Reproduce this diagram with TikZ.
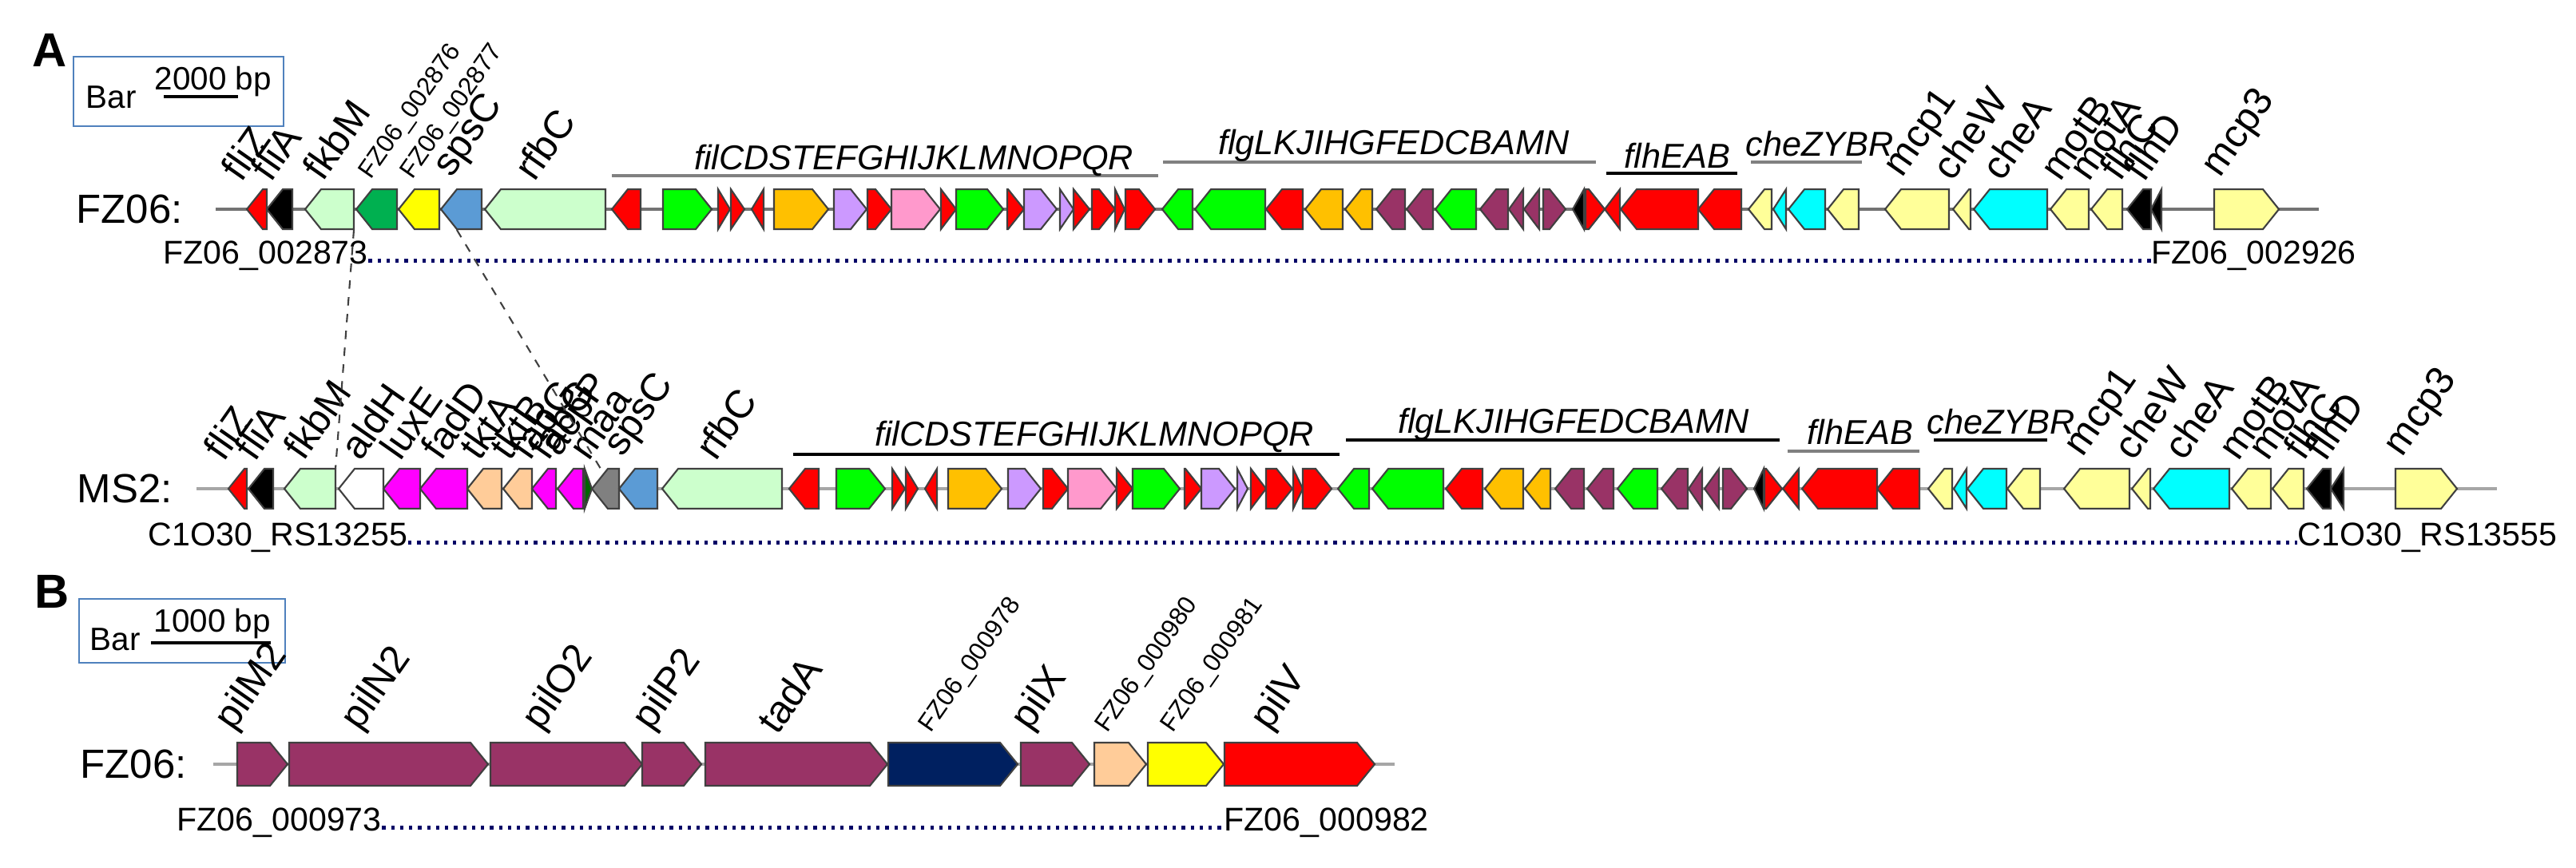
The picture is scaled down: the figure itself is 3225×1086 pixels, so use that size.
\documentclass[tikz,border=0pt]{standalone}
\usepackage{fontspec}
\setmainfont{Liberation Sans}
\definecolor{gred}{HTML}{FF0000}
\definecolor{lgreen}{HTML}{CCFFCC}
\definecolor{mgreen}{HTML}{00B050}
\definecolor{gyellow}{HTML}{FFFF00}
\definecolor{sblue}{HTML}{5B9BD5}
\definecolor{bgreen}{HTML}{00FF00}
\definecolor{gorange}{HTML}{FFC000}
\definecolor{lav}{HTML}{CC99FF}
\definecolor{gpink}{HTML}{FF99CC}
\definecolor{plum}{HTML}{993366}
\definecolor{lyellow}{HTML}{FFFF99}
\definecolor{gcyan}{HTML}{00FFFF}
\definecolor{gmag}{HTML}{FF00FF}
\definecolor{peach}{HTML}{FFCC99}
\definecolor{ggray}{HTML}{808080}
\definecolor{navy}{HTML}{002060}
\definecolor{dgreen}{HTML}{006600}
\definecolor{barblue}{HTML}{4F81BD}
% gene arrows: start, end, fill
\newcommand{\gR}[3]{\pgfmathsetmacro\ghd{min(\ghead,#2-#1)}%
  \filldraw[gene,fill=#3] (#1,\rowy-\ghalf) -- (#2-\ghd,\rowy-\ghalf) -- (#2,\rowy)
  -- (#2-\ghd,\rowy+\ghalf) -- (#1,\rowy+\ghalf) -- cycle;}
\newcommand{\gL}[3]{\pgfmathsetmacro\ghd{min(\ghead,#2-#1)}%
  \filldraw[gene,fill=#3] (#1,\rowy) -- (#1+\ghd,\rowy-\ghalf) -- (#2,\rowy-\ghalf)
  -- (#2,\rowy+\ghalf) -- (#1+\ghd,\rowy+\ghalf) -- cycle;}
% rotated gene label: name, x, text
\newcommand{\glab}[3]{\node[glab] (#1) at (#2,\rowy-\ghalf-7) {#3};}
\newcommand{\tlab}[3]{\node[glab,tagfont] (#1) at (#2,\rowy-\ghalf-7) {#3};}
\begin{document}
\begin{tikzpicture}[x=0.1mm,y=-0.1mm,
  gene/.style={draw=black!75,line width=0.6pt},
  glab/.style={rotate=55,anchor=south west,inner sep=0pt,font=\fontsize{14}{14}\selectfont},
  tagfont/.style={font=\fontsize{9}{9}\selectfont},
  grp/.style={line width=1.3pt},
  grplab/.style={anchor=base,inner sep=0pt,font=\fontsize{12.3}{13}\selectfont\itshape},
  locus/.style={inner sep=0pt,font=\fontsize{11.7}{12}\selectfont},
  org/.style={anchor=west,inner sep=0pt,font=\fontsize{14.5}{15}\selectfont},
  panel/.style={anchor=north west,inner sep=0pt,font=\fontsize{17}{17}\selectfont\bfseries},
  bartxt/.style={anchor=base west,inner sep=0pt,font=\fontsize{11.5}{12}\selectfont},
  barbox/.style={draw=barblue,line width=0.8pt},
  dots/.style={dotted,line width=1.2pt,blue!40!black},
  link/.style={dashed,line width=0.6pt,black!75}]
\useasboundingbox (0,0) rectangle (3225,1086);

% ---- panel A
\node[panel] (pA) at (40,42) {A};
\draw[barbox] (92,71) rectangle (355,158);
\node[bartxt] (barA) at (107,135) {Bar};
\node[bartxt] (scaleA) at (193,112) {2000 bp};
\draw[line width=1.3pt] (205,121) -- (298,121);

% FZ06
\def\rowy{262}\def\ghalf{25}\def\ghead{20}
\node[org] (fzA) at (95,262) {FZ06:};
\draw[line width=1.2pt,black!55] (270,262) -- (2903,262);
\gL{309}{334}{gred} \gL{334}{366}{black} \gL{382}{443}{lgreen} \gL{446}{497}{mgreen}
\gL{499}{550}{gyellow} \gL{552}{603}{sblue} \gL{607}{758}{lgreen} \gL{766}{802}{gred}
\gR{830}{891}{bgreen} \gR{899}{914}{gred} \gR{915}{932}{gred} \gL{941}{956}{gred}
\gR{969}{1037}{gorange} \gR{1044}{1085}{lav} \gR{1086}{1116}{gred} \gR{1116}{1177}{gpink}
\gR{1178}{1197}{gred} \gR{1197}{1256}{bgreen} \gR{1261}{1282}{gred} \gR{1282}{1323}{lav}
\gR{1327}{1344}{lav} \gR{1344}{1364}{gred} \gR{1367}{1396}{gred} \gR{1396}{1408}{gred}
\gR{1409}{1446}{gred} \gL{1455}{1493}{bgreen} \gL{1496}{1584}{bgreen} \gL{1585}{1631}{gred}
\gL{1634}{1681}{gorange} \gL{1684}{1718}{gorange} \gL{1723}{1759}{plum} \gL{1761}{1794}{plum}
\gL{1797}{1848}{bgreen} \gL{1853}{1888}{plum} \gL{1889}{1907}{plum} \gL{1908}{1927}{plum}
\gR{1932}{1960}{plum} \gL{1969}{1983}{black} \gR{1985}{2009}{gred} \gL{2009}{2028}{gred}
\gL{2029}{2126}{gred} \gL{2126}{2180}{gred} \gL{2189}{2218}{lyellow} \gL{2220}{2236}{gcyan}
\gL{2239}{2285}{gcyan} \gL{2288}{2327}{lyellow} \gL{2360}{2440}{lyellow} \gL{2445}{2467}{lyellow}
\gL{2471}{2563}{gcyan} \gL{2567}{2615}{lyellow} \gL{2618}{2657}{lyellow} \gL{2663}{2693}{black}
\gL{2693}{2706}{black} \gR{2772}{2853}{lyellow}
\glab{a-fliZ}{303}{fliZ} \glab{a-fliA}{340}{fliA} \glab{a-fkbM}{405}{fkbM}
\tlab{a-2876}{470}{FZ06\_002876} \tlab{a-2877}{522}{FZ06\_002877}
\glab{a-spsC}{574}{spsC} \glab{a-rfbC}{670}{rfbC}
\glab{a-mcp1}{2390}{mcp1} \glab{a-cheW}{2445}{cheW} \glab{a-cheA}{2507}{cheA}
\glab{a-motB}{2580}{motB} \glab{a-motA}{2616}{motA} \glab{a-flhC}{2655}{flhC}
\glab{a-flhD}{2685}{flhD} \glab{a-mcp3}{2788}{mcp3}
\draw[grp,black!50] (766,220) -- (1450,220);
\node[grplab] (a-fli) at (1144,212) {filCDSTEFGHIJKLMNOPQR};
\draw[grp,black!50] (1456,203) -- (1998,203);
\node[grplab] (a-flg) at (1745,193) {flgLKJIHGFEDCBAMN};
\draw[grp,black] (2011,217) -- (2175,217);
\node[grplab] (a-flh) at (2100,210) {flhEAB};
\draw[grp,black!50] (2192,203) -- (2331,203);
\node[grplab] (a-che) at (2278,195) {cheZYBR};
\node[locus,anchor=base west] (tagA1) at (204,330) {FZ06\_002873};
\node[locus,anchor=base west] (tagA2) at (2693,330) {FZ06\_002926};
\draw[dots] ([yshift=1pt]tagA1.base east) -- ([yshift=1pt]tagA2.base west);

% MS2
\def\rowy{612}
\node[org] (ms) at (96,612) {MS2:};
\draw[line width=1.2pt,black!35] (246,612) -- (3126,612);
\gL{286}{309}{gred} \gL{311}{342}{black} \gL{356}{420}{lgreen} \gL{424}{480}{white}
\gL{480}{526}{gmag} \gL{526}{585}{gmag} \gL{585}{628}{peach} \gL{630}{666}{peach}
\gL{666}{696}{gmag} \gL{698}{730}{gmag} \gR{732}{741}{dgreen} \gL{741}{775}{ggray}
\gL{775}{823}{sblue} \gL{829}{979}{lgreen} \gL{988}{1025}{gred} \gR{1047}{1108}{bgreen}
\gR{1117}{1133}{gred} \gR{1134}{1149}{gred} \gL{1158}{1173}{gred} \gR{1187}{1254}{gorange}
\gR{1262}{1303}{lav} \gR{1306}{1337}{gred} \gR{1337}{1398}{gpink} \gR{1398}{1418}{gred}
\gR{1418}{1477}{bgreen} \gR{1483}{1504}{gred} \gR{1504}{1546}{lav} \gR{1549}{1562}{lav}
\gR{1566}{1585}{gred} \gR{1585}{1618}{gred} \gR{1619}{1631}{gred} \gR{1631}{1667}{gred}
\gL{1675}{1714}{bgreen} \gL{1718}{1807}{bgreen} \gL{1810}{1856}{gred} \gL{1859}{1907}{gorange}
\gL{1909}{1941}{gorange} \gL{1947}{1983}{plum} \gL{1987}{2020}{plum} \gL{2025}{2075}{bgreen}
\gL{2080}{2113}{plum} \gL{2114}{2131}{plum} \gL{2134}{2152}{plum} \gR{2157}{2187}{plum}
\gL{2196}{2208}{black} \gR{2209}{2231}{gred} \gL{2232}{2252}{gred} \gL{2256}{2350}{gred}
\gL{2350}{2403}{gred} \gL{2414}{2444}{lyellow} \gL{2446}{2462}{gcyan} \gL{2463}{2512}{gcyan}
\gL{2513}{2554}{lyellow} \gL{2584}{2666}{lyellow} \gL{2669}{2692}{lyellow} \gL{2696}{2791}{gcyan}
\gL{2794}{2843}{lyellow} \gL{2845}{2884}{lyellow} \gL{2888}{2918}{black} \gL{2918}{2934}{black}
\gR{2999}{3076}{lyellow}
\glab{b-fliZ}{281}{fliZ} \glab{b-fliA}{320}{fliA} \glab{b-fkbM}{381}{fkbM}
\glab{b-aldH}{452}{aldH} \glab{b-luxE}{502}{luxE} \glab{b-fadD}{553}{fadD}
\glab{b-tktA}{601}{tktA} \glab{b-tktB}{639}{tktB} \glab{b-fabG1}{664}{fabG}
\glab{b-fabG2}{687}{fabG} \glab{b-acpP}{709}{acpP} \glab{b-maa}{738}{maa}
\glab{b-spsC}{788}{spsC} \glab{b-rfbC}{897}{rfbC}
\glab{b-mcp1}{2616}{mcp1} \glab{b-cheW}{2672}{cheW} \glab{b-cheA}{2735}{cheA}
\glab{b-motB}{2803}{motB} \glab{b-motA}{2840}{motA} \glab{b-flhC}{2885}{flhC}
\glab{b-flhD}{2912}{flhD} \glab{b-mcp3}{3016}{mcp3}
\draw[grp,black] (993,569) -- (1677,569);
\node[grplab] (b-fli) at (1370,558) {filCDSTEFGHIJKLMNOPQR};
\draw[grp,black] (1685,551) -- (2228,551);
\node[grplab] (b-flg) at (1970,542) {flgLKJIHGFEDCBAMN};
\draw[grp,black!50] (2238,565) -- (2403,565);
\node[grplab] (b-flh) at (2329,556) {flhEAB};
\draw[grp,black] (2421,551) -- (2563,551);
\node[grplab] (b-che) at (2505,543) {cheZYBR};
\node[locus,anchor=base west] (tagB1) at (185,683) {C1O30\_RS13255};
\node[locus,anchor=base west] (tagB2) at (2876,683) {C1O30\_RS13555};
\draw[dots] ([yshift=1pt]tagB1.base east) -- ([yshift=1pt]tagB2.base west);

% links between the two maps
\coordinate (fkbMa) at (443,288); \coordinate (fkbMb) at (420,587);
\coordinate (spsCa) at (572,288); \coordinate (spsCb) at (752,587);
\draw[link] (fkbMa) -- (fkbMb);
\draw[link] (spsCa) -- (spsCb);

% ---- panel B
\node[panel] (pB) at (43,720) {B};
\draw[barbox] (99,750) rectangle (357,830);
\node[bartxt] (barB) at (112,814) {Bar};
\node[bartxt] (scaleB) at (192,791) {1000 bp};
\draw[line width=1.3pt] (189,805) -- (339,805);
\def\rowy{957}\def\ghalf{27}\def\ghead{22}
\node[org] (fzB) at (100,957) {FZ06:};
\draw[line width=1.2pt,black!35] (267,957) -- (1746,957);
\gR{297}{360}{plum} \gR{362}{611}{plum} \gR{614}{804}{plum} \gR{804}{878}{plum}
\gR{883}{1111}{plum} \gR{1112}{1274}{navy} \gR{1278}{1364}{plum} \gR{1370}{1435}{peach}
\gR{1437}{1532}{gyellow} \gR{1533}{1721}{gred}
\glab{c-pilM2}{301}{pilM2} \glab{c-pilN2}{459}{pilN2} \glab{c-pilO2}{686}{pilO2}
\glab{c-pilP2}{824}{pilP2} \glab{c-tadA}{974}{tadA} \tlab{c-0978}{1171}{FZ06\_000978}
\glab{c-pilX}{1298}{pilX} \tlab{c-0980}{1392}{FZ06\_000980} \tlab{c-0981}{1474}{FZ06\_000981}
\glab{c-pilV}{1598}{pilV}
\node[locus,anchor=base west] (tagC1) at (221,1040) {FZ06\_000973};
\node[locus,anchor=base west] (tagC2) at (1532,1040) {FZ06\_000982};
\draw[dots] ([yshift=1pt]tagC1.base east) -- ([yshift=1pt]tagC2.base west);
\end{tikzpicture}
\end{document}
